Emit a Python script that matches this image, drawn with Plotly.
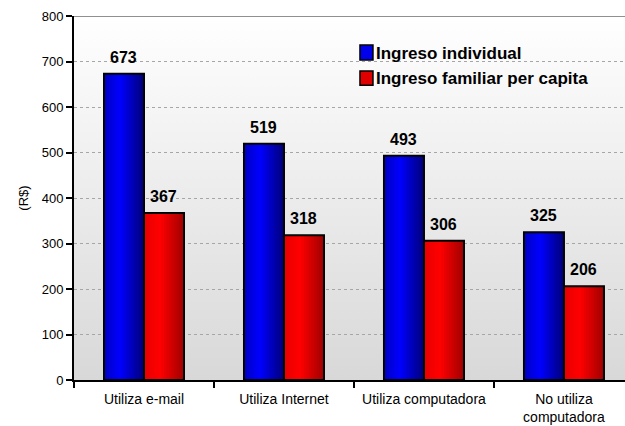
import plotly.graph_objects as go

categories = ["Utiliza e-mail", "Utiliza Internet", "Utiliza computadora", "No utiliza<br>computadora"]
series_names = ["Ingreso individual", "Ingreso familiar per capita"]
ingreso_individual = [673, 519, 493, 325]
ingreso_familiar = [367, 318, 306, 206]
y_ticks = [0, 100, 200, 300, 400, 500, 600, 700, 800]

FONT = "Liberation Sans, Arial, sans-serif"
BAR_W = 40 / 140  # one bar, in category units

# horizontal shading across each bar, left -> right
blue_stops = [(0.0, (0, 0, 195)), (0.4, (0, 0, 255)), (1.0, (0, 0, 120))]
red_stops = [(0.0, (230, 0, 0)), (0.4, (255, 0, 0)), (1.0, (160, 0, 0))]


def shade(stops, t):
    for (t0, c0), (t1, c1) in zip(stops, stops[1:]):
        if t0 <= t <= t1:
            f = (t - t0) / (t1 - t0)
            r, g, b = (round(a + (b_ - a) * f) for a, b_ in zip(c0, c1))
            return f"rgb({r},{g},{b})"
    return f"rgb{stops[-1][1]}"


fig = go.Figure()

N = 16
for values, stops, base_off in [(ingreso_individual, blue_stops, -BAR_W),
                                (ingreso_familiar, red_stops, 0.0)]:
    # each strip runs to the bar's right edge, so no seams show between strips
    for k in range(N):
        start = k * BAR_W / N
        fig.add_trace(go.Bar(
            x=categories, y=values,
            offset=base_off + start, width=BAR_W - start,
            marker=dict(color=shade(stops, (k + 0.5) / N), line_width=0),
            showlegend=False, hoverinfo="skip",
        ))
    # outline on top
    fig.add_trace(go.Bar(
        x=categories, y=values, offset=base_off, width=BAR_W,
        marker=dict(color="rgba(0,0,0,0)", line=dict(color="black", width=2)),
        showlegend=False,
    ))

# value labels
annotations = []
for values, shift in [(ingreso_individual, -20), (ingreso_familiar, 20)]:
    for cat, v in zip(categories, values):
        annotations.append(dict(
            x=cat, y=v, text=f"<b>{v}</b>", showarrow=False,
            xshift=shift, yshift=6, yanchor="bottom",
            font=dict(size=16, color="black", family=FONT),
        ))

# legend (boxed swatches, drawn by hand to sit tight against the text)
legend_colors = ["rgb(0,0,235)", "rgb(225,0,0)"]
legend_rows = [(0.879, 0.920, 0.897), (0.810, 0.849, 0.827)]
shapes = []
for name, col, (y0, y1, yt) in zip(series_names, legend_colors, legend_rows):
    shapes.append(dict(type="rect", xref="paper", yref="paper",
                       x0=0.519, x1=0.5426, y0=y0, y1=y1,
                       fillcolor=col, line=dict(color="black", width=1.5)))
    annotations.append(dict(
        xref="paper", yref="paper", x=0.5445, y=yt,
        xanchor="left", yanchor="middle", showarrow=False,
        text=f"<b>{name}</b>", font=dict(size=17, color="black", family=FONT),
    ))

# top border of the plot area
shapes.append(dict(type="line", xref="paper", yref="y", x0=0, x1=1, y0=800, y1=800,
                   line=dict(color="#909090", width=2)))

bg_svg = (
    "data:image/svg+xml;utf8,"
    "<svg xmlns='http://www.w3.org/2000/svg' width='10' height='100' preserveAspectRatio='none'>"
    "<defs><linearGradient id='g' x1='0' y1='0' x2='0' y2='1'>"
    "<stop offset='0' stop-color='%23ffffff'/><stop offset='1' stop-color='%23d8d8d8'/>"
    "</linearGradient></defs><rect width='10' height='100' fill='url(%23g)'/></svg>"
)

fig.update_layout(
    width=625, height=426,
    margin=dict(l=74, r=0, t=16, b=46),
    barmode="overlay",
    paper_bgcolor="white", plot_bgcolor="rgba(0,0,0,0)",
    showlegend=False,
    font=dict(family=FONT, size=13, color="black"),
    annotations=annotations, shapes=shapes,
    images=[dict(source=bg_svg, xref="paper", yref="paper", x=0, y=1,
                 sizex=1, sizey=1, sizing="stretch", layer="below",
                 xanchor="left", yanchor="top")],
)
fig.update_xaxes(
    range=[-0.5, 3.436], showline=True, linecolor="black", linewidth=2,
    ticks="outside", tickson="boundaries", ticklen=6, tickwidth=2, tickcolor="black",
    showgrid=False, tickfont=dict(size=14), zeroline=False, ticklabelstandoff=5,
)
fig.update_yaxes(
    range=[0, 800], tickvals=y_ticks, showline=True, linecolor="black", linewidth=2,
    ticks="outside", ticklen=6, tickwidth=2, tickcolor="black",
    showgrid=True, gridcolor="#a6a6a6", griddash="dot", gridwidth=1,
    zeroline=False, tickfont=dict(size=13),
    title=dict(text="(R$)", font=dict(size=13), standoff=10),
)

fig.write_html("out.html", config={"displayModeBar": False},
               post_script="document.body.style.margin='0';")
